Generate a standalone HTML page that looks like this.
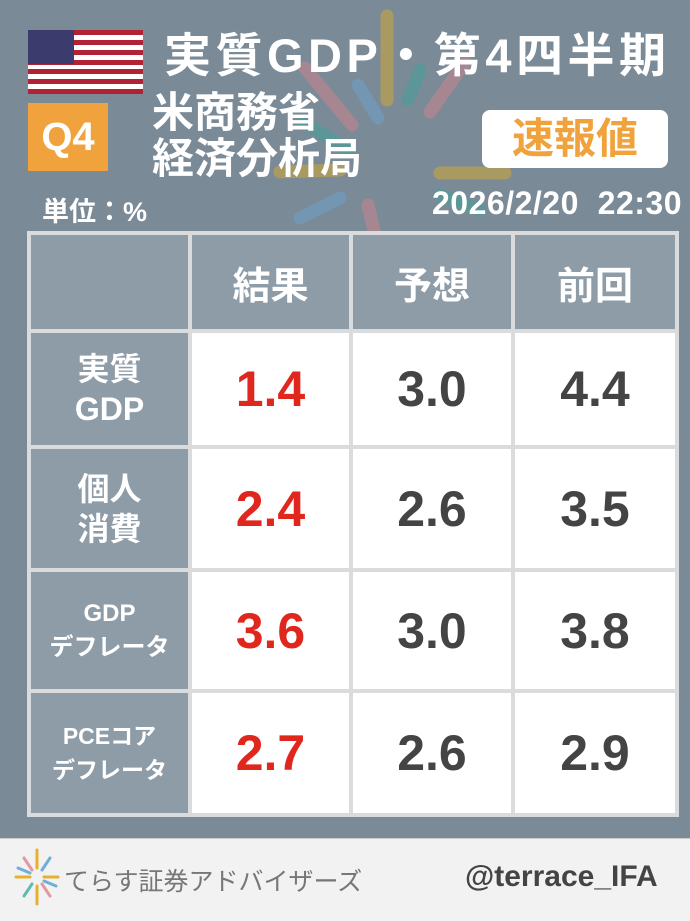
<!DOCTYPE html>
<html><head><meta charset="utf-8"><style>
*{margin:0;padding:0;box-sizing:border-box}
body{width:690px;height:921px;overflow:hidden;background:#7a8a97;font-family:"Liberation Sans","Noto Sans CJK JP",sans-serif;position:relative}
.a{position:absolute}
.c{position:absolute;display:flex;align-items:center;justify-content:center;text-align:center}
.h{background:#8e9ca8;color:#fff;font-weight:bold}
.v{background:#fff;color:#444;font-weight:bold;font-size:50px}
.r{color:#e0271e}
</style></head><body>
<svg class="a" style="left:0;top:0" width="690" height="240">
<g stroke-linecap="round" stroke-width="13" opacity="0.6">
<line x1="387" y1="16" x2="387" y2="100" stroke="#c9a640"/>
<line x1="305" y1="68" x2="352" y2="125" stroke="#c4868e"/>
<line x1="358" y1="85" x2="378" y2="118" stroke="#6f9ec4"/>
<line x1="303" y1="122" x2="348" y2="150" stroke="#4a9e9a"/>
<line x1="280" y1="172" x2="340" y2="170" stroke="#c9a640"/>
<line x1="420" y1="70" x2="408" y2="100" stroke="#4a9e9a"/>
<line x1="465" y1="62" x2="430" y2="112" stroke="#c4868e"/>
<line x1="440" y1="173" x2="505" y2="173" stroke="#c9a640"/>
<line x1="300" y1="218" x2="340" y2="198" stroke="#6f9ec4"/>
<line x1="440" y1="195" x2="480" y2="210" stroke="#4a9e9a"/>
<line x1="368" y1="205" x2="375" y2="235" stroke="#c4868e"/>
</g>
</svg>
<svg class="a" style="left:28px;top:30px" width="115" height="64">
<rect width="115" height="64" fill="#fff"/>
<g fill="#b22234"><rect y="0" width="115" height="5"/><rect y="10" width="115" height="5"/><rect y="20" width="115" height="5"/><rect y="30" width="115" height="5"/><rect y="39" width="115" height="5"/><rect y="49" width="115" height="5"/><rect y="59" width="115" height="5"/></g>
<rect width="46" height="34" fill="#3c3b6e"/>
</svg>
<div class="a" style="left:28px;top:103px;width:80px;height:68px;background:#f0a33c;color:#fff;font-weight:bold;font-size:40px;line-height:68px;text-align:center">Q4</div>
<div class="a" style="left:164px;top:28px;font-size:47px;letter-spacing:4.5px;font-weight:bold;color:#fff;white-space:nowrap;line-height:56px">実質GDP・第4四半期</div>
<div class="a" style="left:152px;top:90px;font-size:42px;color:#fff;line-height:46px;font-weight:bold">米商務省<br>経済分析局</div>
<div class="a" style="left:482px;top:110px;width:186px;height:58px;background:#fff;border-radius:8px;color:#f0a33c;font-weight:bold;font-size:42px;line-height:58px;text-align:center">速報値</div>
<div class="a" style="left:42px;top:190px;font-size:27px;color:#fff;font-weight:bold">単位：%</div>
<div class="a" style="left:432px;top:185px;font-size:32px;letter-spacing:0.5px;color:#fff;font-weight:bold;white-space:nowrap">2026/2/20&nbsp;&nbsp;22:30</div>
<div class="a" style="left:27px;top:231px;width:652px;height:586px;background:#d9dbdc"></div>
<div class="c h" style="left:31px;top:235px;width:157px;height:94px"></div>
<div class="c h" style="left:192px;top:235px;width:157px;height:94px;font-size:38px">結果</div>
<div class="c h" style="left:353px;top:235px;width:158px;height:94px;font-size:38px">予想</div>
<div class="c h" style="left:515px;top:235px;width:160px;height:94px;font-size:38px">前回</div>

<div class="c h" style="left:31px;top:333px;width:157px;height:112px;font-size:32px;line-height:40px">実質<br>GDP</div>
<div class="c v r" style="left:192px;top:333px;width:157px;height:112px">1.4</div>
<div class="c v" style="left:353px;top:333px;width:158px;height:112px">3.0</div>
<div class="c v" style="left:515px;top:333px;width:160px;height:112px">4.4</div>

<div class="c h" style="left:31px;top:449px;width:157px;height:119px;font-size:32px;line-height:40px">個人<br>消費</div>
<div class="c v r" style="left:192px;top:449px;width:157px;height:119px">2.4</div>
<div class="c v" style="left:353px;top:449px;width:158px;height:119px">2.6</div>
<div class="c v" style="left:515px;top:449px;width:160px;height:119px">3.5</div>

<div class="c h" style="left:31px;top:572px;width:157px;height:117px;font-size:24px;line-height:34px">GDP<br>デフレータ</div>
<div class="c v r" style="left:192px;top:572px;width:157px;height:117px">3.6</div>
<div class="c v" style="left:353px;top:572px;width:158px;height:117px">3.0</div>
<div class="c v" style="left:515px;top:572px;width:160px;height:117px">3.8</div>

<div class="c h" style="left:31px;top:693px;width:157px;height:120px;font-size:23px;line-height:34px">PCEコア<br>デフレータ</div>
<div class="c v r" style="left:192px;top:693px;width:157px;height:120px">2.7</div>
<div class="c v" style="left:353px;top:693px;width:158px;height:120px">2.6</div>
<div class="c v" style="left:515px;top:693px;width:160px;height:120px">2.9</div>

<div class="a" style="left:0;top:838px;width:690px;height:83px;background:#f2f2f2;border-top:1px solid #ccc"></div>
<svg class="a" style="left:14px;top:848px" width="46" height="58">
<g stroke-width="3" stroke-linecap="round">
<line x1="23" y1="2" x2="23" y2="20" stroke="#e8b030"/><line x1="23" y1="38" x2="23" y2="56" stroke="#e8b030"/>
<line x1="2" y1="29" x2="16" y2="29" stroke="#e8b030"/><line x1="30" y1="29" x2="44" y2="29" stroke="#e8b030"/>
<line x1="10" y1="10" x2="18" y2="22" stroke="#e09aa0"/><line x1="36" y1="10" x2="28" y2="22" stroke="#6fb0d8"/>
<line x1="10" y1="48" x2="18" y2="36" stroke="#5cbcb0"/><line x1="36" y1="48" x2="28" y2="36" stroke="#e09aa0"/>
<line x1="4" y1="20" x2="16" y2="25" stroke="#6fb0d8"/><line x1="42" y1="38" x2="30" y2="33" stroke="#6fb0d8"/>
</g></svg>
<div class="a" style="left:64px;top:862px;font-size:25px;color:#777;white-space:nowrap">てらす証券アドバイザーズ</div>
<div class="a" style="left:465px;top:860px;font-size:30px;color:#444;font-weight:bold;white-space:nowrap">@terrace_IFA</div>
</body></html>
